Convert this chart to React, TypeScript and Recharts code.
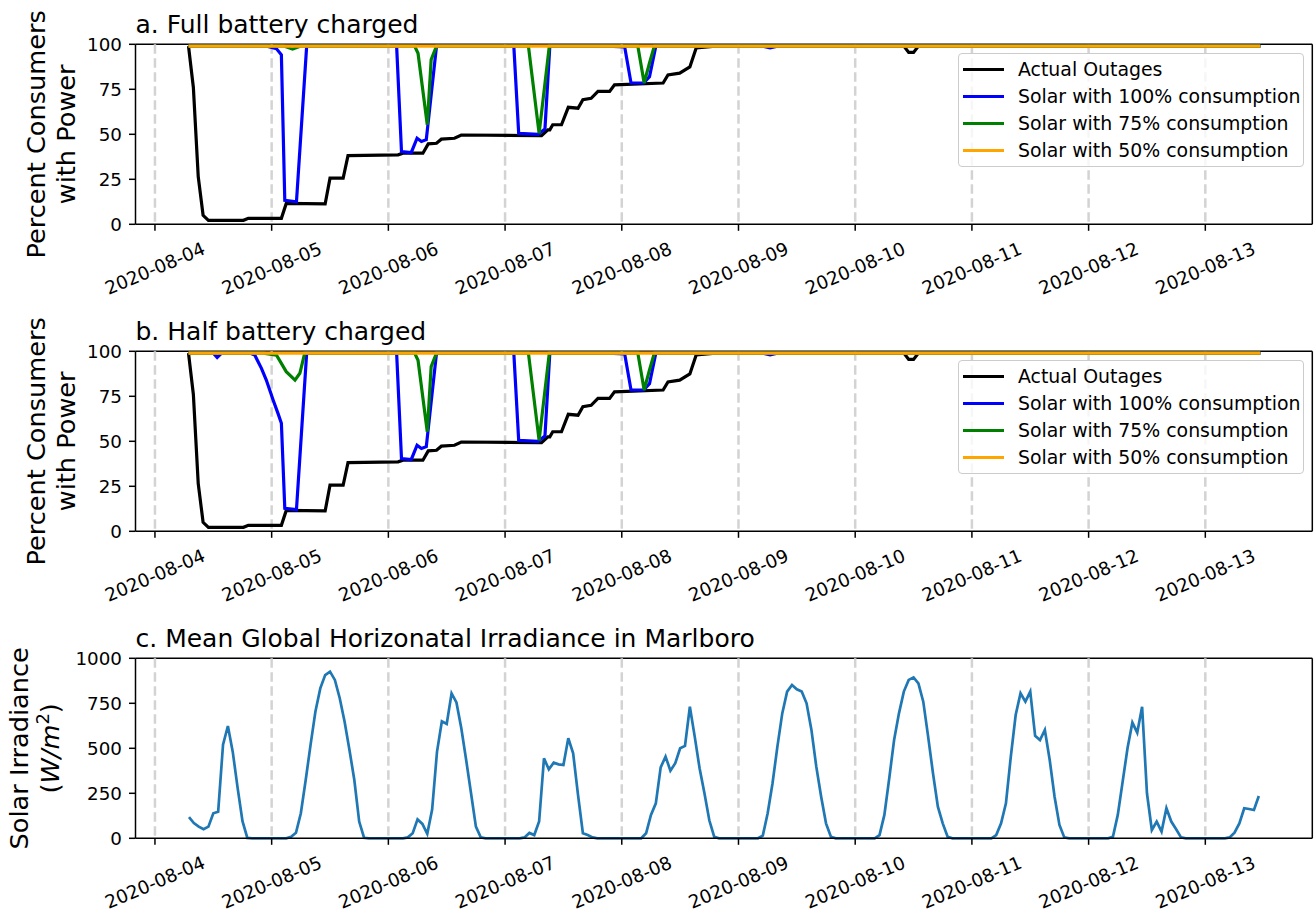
import React from 'react';
import { LineChart, Line, XAxis, YAxis, CartesianGrid, Legend } from 'recharts';

const FONT = '"DejaVu Sans", "Liberation Sans", sans-serif';

// x axis: hours since 2020-08-04 00:00
const dayTicks = [0, 24, 48, 72, 96, 120, 144, 168, 192, 216];
const dayLabels = [
  '2020-08-04', '2020-08-05', '2020-08-06', '2020-08-07', '2020-08-08',
  '2020-08-09', '2020-08-10', '2020-08-11', '2020-08-12', '2020-08-13',
];
const pctTicks = [0, 25, 50, 75, 100];
const irrTicks = [0, 250, 500, 750, 1000];

const seriesNames = [
  'Actual Outages',
  'Solar with 100% consumption',
  'Solar with 75% consumption',
  'Solar with 50% consumption',
];

// [hour, percent of consumers with power]
const actualOutages: [number, number][] = [
  [6.9, 99], [7.9, 76], [8.9, 26.5], [9.9, 5], [11, 2.2], [18.2, 2.2], [19.2, 3.3], [26, 3.3],
  [27, 11.6], [35, 11.3], [36, 25.6], [38.7, 25.6], [39.7, 38.2], [50, 38.6], [51, 39.5],
  [55.1, 39.5], [56.2, 44.7], [57.9, 45], [58.9, 47.3], [61.6, 47.8], [63, 49.6], [79.5, 49.2],
  [80.8, 52.5], [81.2, 52.5], [81.8, 55.3], [83.6, 55.3], [85, 65], [87, 64.5], [88, 69.2],
  [89.7, 70], [91.1, 73.8], [93.5, 73.8], [94.5, 77.5], [104.5, 78.5], [105.5, 83], [107.9, 84],
  [110, 87.4], [111.3, 98], [114.7, 98.8], [120, 99], [154, 99], [155, 95.5], [156, 95.5],
  [157, 99], [227.3, 99],
];

// days 3-5, identical in both battery scenarios
const solar100Later: [number, number][] = [
  [49.7, 99], [50.7, 40.4], [52.7, 39.8], [53.9, 47.8], [54.8, 46], [55.8, 47], [57.9, 99],
  [73.8, 99], [74.8, 50.5], [78.8, 50], [80.2, 53], [81.2, 99], [93, 99], [96.6, 98.5],
  [97.9, 78.5], [100.5, 78.5], [101.7, 82], [103, 99], [125, 99], [126.5, 98], [128, 99],
  [227.3, 99],
];
const solar75Later: [number, number][] = [
  [53.4, 99], [54.1, 95], [56, 55.3], [56.8, 91.5], [57.9, 99], [76.8, 99], [79, 50.5],
  [81.1, 99], [99.3, 99], [100.6, 78.5], [101.7, 89.6], [102.7, 99], [227.3, 99],
];

const solar100Full: [number, number][] = [
  [6.9, 99], [23, 99], [25, 97.5], [26, 94.2], [26.7, 13.3], [29.1, 12.5], [31.2, 99],
  ...solar100Later,
];
const solar75Full: [number, number][] = [
  [6.9, 99], [26.5, 99], [28.3, 97.3], [30, 99],
  ...solar75Later,
];
const solar100Half: [number, number][] = [
  [6.9, 99], [12, 99], [12.8, 96.6], [13.7, 99], [19.5, 99], [20.5, 98], [21.9, 90.5],
  [22.9, 84], [24.3, 73], [25.3, 65.5], [26, 60], [26.7, 12.8], [29.1, 12], [31.2, 99],
  ...solar100Later,
];
const solar75Half: [number, number][] = [
  [6.9, 99], [22.3, 99], [25, 97.8], [27, 88.7], [28.8, 84], [29.8, 87.8], [30.8, 99],
  ...solar75Later,
];
const solar50: [number, number][] = [[6.9, 99], [227.3, 99]];

// hourly mean GHI (W/m2), first value at hour 7
const irrStartHour = 7;
const irradiance = [
  117, 85, 65, 50, 65, 139, 148, 520, 624, 480, 280, 95, 2,
  0, 0, 0, 0, 0, 0, 0, 0,
  9, 31, 139, 324, 519, 704, 833, 907, 926, 880, 778, 648, 491, 324, 93, 3,
  0, 0, 0, 0, 0, 0, 0, 0,
  5, 28, 105, 80, 25, 160, 480, 650, 635, 805, 755, 611, 435, 250, 65, 5,
  0, 0, 0, 0, 0, 0, 0, 0,
  5, 30, 18, 93, 444, 383, 420, 411, 407, 556, 472, 241, 28, 18, 5,
  0, 0, 0, 0, 0, 0, 0, 0, 0, 0,
  28, 130, 194, 394, 454, 376, 417, 500, 513, 731, 565, 389, 250, 100, 9,
  0, 0, 0, 0, 0, 0, 0, 0, 0,
  15, 139, 306, 509, 694, 815, 852, 828, 815, 750, 602, 398, 231, 83, 9,
  0, 0, 0, 0, 0, 0, 0, 0, 0,
  18, 130, 333, 546, 694, 815, 880, 894, 861, 759, 565, 361, 176, 83, 9,
  0, 0, 0, 0, 0, 0, 0, 0, 0,
  18, 83, 194, 454, 685, 806, 759, 815, 569, 546, 602, 435, 231, 74, 5,
  0, 0, 0, 0, 0, 0, 0, 0, 0,
  9, 130, 315, 500, 643, 587, 731, 250, 46, 93, 37, 167, 93, 50, 5,
  0, 0, 0, 0, 0, 0, 0, 0, 0,
  5, 31, 83, 167, 163, 157, 235,
];

const toPoints = (pairs: [number, number][]) => pairs.map(([h, v]) => ({ h, v }));
const irrPoints = irradiance.map((v, i) => ({ h: irrStartHour + i, v }));

const PLOT_LEFT = 135.5;
const PLOT_RIGHT = 1312.3;
const PLOT_TOP = 44.3;
const PLOT_BOTTOM = 224.3;
const PANEL_STEP = 307;

const DateTick = (props: any) => {
  const { x, y, payload } = props;
  const cy = y + 35.5;
  const label = dayLabels[dayTicks.indexOf(payload.value)];
  return (
    <text
      x={x}
      y={cy}
      textAnchor="middle"
      dominantBaseline="central"
      transform={`rotate(-23 ${x} ${cy})`}
      fontSize={18.3}
      fontFamily={FONT}
      fill="#000"
    >
      {label}
    </text>
  );
};

const LegendBox = (props: any) => {
  const items = [...(props.payload || [])].sort(
    (a: any, b: any) => seriesNames.indexOf(a.value) - seriesNames.indexOf(b.value),
  );
  return (
    <div
      style={{
        boxSizing: 'border-box',
        width: 345.5,
        height: 113.4,
        background: 'rgba(255,255,255,0.8)',
        border: '1px solid #cccccc',
        borderRadius: 4,
        paddingTop: 1.5,
        fontFamily: FONT,
        fontSize: 18.9,
        color: '#000',
        overflow: 'visible',
      }}
    >
      {items.map((it: any) => (
        <div key={it.value} style={{ height: 27, display: 'flex', alignItems: 'center' }}>
          <div style={{ flexShrink: 0, marginLeft: 4.3, width: 40.7, height: 3.2, background: it.color }} />
          <span style={{ flexShrink: 0, marginLeft: 14, whiteSpace: 'nowrap' }}>{it.value}</span>
        </div>
      ))}
    </div>
  );
};

const axisStyle = { stroke: '#000', strokeWidth: 1.5 };
const tickText = { fill: '#000', fontSize: 18.3, fontFamily: FONT };

const chartMargin = { top: PLOT_TOP, right: 1315 - PLOT_RIGHT, bottom: 12.7, left: PLOT_LEFT - 60 };

function OutagePanel({ top, blue, green }: { top: number; blue: [number, number][]; green: [number, number][] }) {
  return (
    <div style={{ position: 'absolute', left: 0, top }}>
      <LineChart width={1315} height={307} margin={chartMargin}>
        <CartesianGrid vertical horizontal={false} syncWithTicks stroke="#d3d3d3" strokeWidth={2.5} strokeDasharray="9.5 4.5" />
        <XAxis
          type="number"
          dataKey="h"
          domain={[-4, 238]}
          allowDataOverflow
          ticks={dayTicks}
          interval={0}
          height={70}
          tick={<DateTick />}
          tickSize={6.5}
          tickMargin={2}
          axisLine={axisStyle}
          tickLine={axisStyle}
        />
        <YAxis
          type="number"
          domain={[0, 100]}
          ticks={pctTicks}
          interval={0}
          width={60}
          tick={tickText}
          tickSize={6.5}
          tickMargin={7}
          axisLine={axisStyle}
          tickLine={axisStyle}
        />
        <Line data={toPoints(actualOutages)} dataKey="v" name={seriesNames[0]} stroke="#000000" strokeWidth={3.2} dot={false} isAnimationActive={false} />
        <Line data={toPoints(blue)} dataKey="v" name={seriesNames[1]} stroke="#0000ff" strokeWidth={3.2} dot={false} isAnimationActive={false} />
        <Line data={toPoints(green)} dataKey="v" name={seriesNames[2]} stroke="#008000" strokeWidth={3.2} dot={false} isAnimationActive={false} />
        <Line data={toPoints(solar50)} dataKey="v" name={seriesNames[3]} stroke="#ffa500" strokeWidth={3.2} dot={false} isAnimationActive={false} />
        <Legend
          layout="vertical"
          align="center"
          verticalAlign="middle"
          wrapperStyle={{ left: 958, top: 53.3, width: 345.5, height: 113.4 }}
          content={<LegendBox />}
        />
      </LineChart>
    </div>
  );
}

function IrradiancePanel({ top }: { top: number }) {
  return (
    <div style={{ position: 'absolute', left: 0, top }}>
      <LineChart width={1315} height={299} margin={{ ...chartMargin, bottom: 4.7 }}>
        <CartesianGrid vertical horizontal={false} syncWithTicks stroke="#d3d3d3" strokeWidth={2.5} strokeDasharray="9.5 4.5" />
        <XAxis
          type="number"
          dataKey="h"
          domain={[-4, 238]}
          allowDataOverflow
          ticks={dayTicks}
          interval={0}
          height={70}
          tick={<DateTick />}
          tickSize={6.5}
          tickMargin={2}
          axisLine={axisStyle}
          tickLine={axisStyle}
        />
        <YAxis
          type="number"
          domain={[0, 1000]}
          ticks={irrTicks}
          interval={0}
          width={60}
          tick={tickText}
          tickSize={6.5}
          tickMargin={7}
          axisLine={axisStyle}
          tickLine={axisStyle}
        />
        <Line data={irrPoints} dataKey="v" name="GHI" stroke="#1f77b4" strokeWidth={2.7} dot={false} isAnimationActive={false} />
      </LineChart>
    </div>
  );
}

const titles = [
  'a. Full battery charged',
  'b. Half battery charged',
  'c. Mean Global Horizonatal Irradiance in Marlboro',
];

export default function App() {
  const mid = (PLOT_TOP + PLOT_BOTTOM) / 2;
  return (
    <div style={{ position: 'absolute', left: 0, top: 0, width: 1315, height: 913, background: '#fff', overflow: 'hidden' }}>
      <svg width={1315} height={913} style={{ position: 'absolute', left: 0, top: 0 }} fontFamily={FONT}>
        {[0, 1, 2].map((i) => {
          const off = i * PANEL_STEP;
          return (
            <g key={i}>
              <line x1={PLOT_LEFT} x2={PLOT_RIGHT} y1={PLOT_TOP + off} y2={PLOT_TOP + off} stroke="#000" strokeWidth={1.5} />
              <line x1={PLOT_RIGHT} x2={PLOT_RIGHT} y1={PLOT_TOP + off} y2={PLOT_BOTTOM + off} stroke="#000" strokeWidth={1.5} />
              <text x={PLOT_LEFT} y={33 + off} fontSize={25} fill="#000">{titles[i]}</text>
            </g>
          );
        })}
        {[0, 1].map((i) => {
          const cy = mid + i * PANEL_STEP;
          return (
            <g key={'yl' + i} fontSize={25.6} fill="#000">
              <text transform={`translate(45 ${cy}) rotate(-90)`} textAnchor="middle">Percent Consumers</text>
              <text transform={`translate(75 ${cy}) rotate(-90)`} textAnchor="middle">with Power</text>
            </g>
          );
        })}
        <g fontSize={25.6} fill="#000">
          <text transform={`translate(28 ${mid + 2 * PANEL_STEP}) rotate(-90)`} textAnchor="middle">Solar Irradiance</text>
          <text transform={`translate(59 ${mid + 2 * PANEL_STEP}) rotate(-90)`} textAnchor="middle">
            (<tspan fontStyle="italic">W</tspan><tspan fontStyle="italic">/m</tspan>
            <tspan dy={-10} fontSize={18}>2</tspan>
            <tspan dy={10}>)</tspan>
          </text>
        </g>
      </svg>
      <OutagePanel top={0} blue={solar100Full} green={solar75Full} />
      <OutagePanel top={PANEL_STEP} blue={solar100Half} green={solar75Half} />
      <IrradiancePanel top={2 * PANEL_STEP} />
    </div>
  );
}
